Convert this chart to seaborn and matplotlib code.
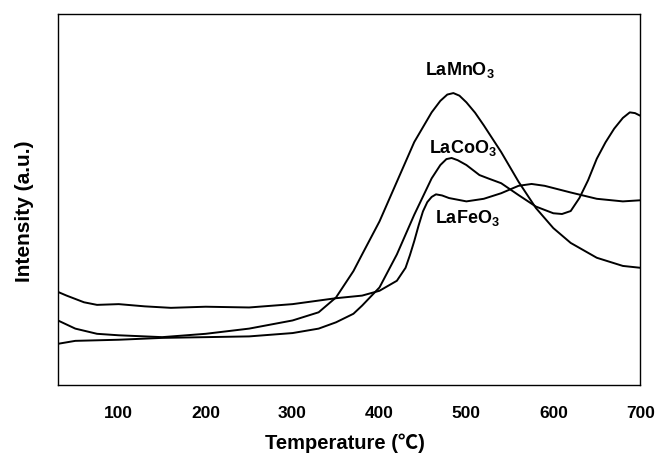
import numpy as np
import pandas as pd
import seaborn as sns
import matplotlib
matplotlib.use("Agg")
import matplotlib.pyplot as plt

# ---- data (intensity in arbitrary units 0-100) ----
mn_T = [30, 50, 75, 100, 150, 200, 250, 300, 330, 350, 370, 380, 400, 420, 440, 460,
        470, 478, 485, 492, 500, 510, 520, 540, 560, 580, 600, 620, 650, 680, 700]
mn_I = [17.4, 15.2, 13.8, 13.4, 12.9, 13.8, 15.2, 17.4, 19.6, 23.6, 30.7, 35.2, 44.1,
        54.8, 65.5, 73.5, 76.6, 78.3, 78.7, 78.0, 76.2, 73.4, 70.0, 62.8, 54.8, 47.7,
        42.3, 38.3, 34.3, 32.1, 31.6]

co_T = [30, 50, 100, 150, 200, 250, 300, 330, 350, 370, 380, 400, 420, 440, 460, 470,
        477, 483, 490, 500, 515, 525, 540, 560, 580, 600, 610, 620, 630, 640, 650, 660,
        670, 680, 688, 694, 700]
co_I = [11.1, 11.9, 12.2, 12.7, 12.9, 13.1, 14.0, 15.2, 16.9, 19.2, 21.4, 26.3, 35.2,
        45.9, 55.7, 59.3, 60.9, 61.2, 60.6, 59.3, 56.6, 55.7, 54.4, 51.2, 48.1, 46.3,
        46.1, 46.9, 50.4, 55.2, 61.0, 65.4, 69.1, 72.0, 73.5, 73.3, 72.6]

fe_T = [30, 40, 60, 75, 100, 130, 160, 200, 250, 300, 350, 380, 400, 420, 430, 435,
        440, 445, 450, 455, 460, 465, 472, 480, 500, 520, 540, 560, 575, 590, 620,
        650, 680, 700]
fe_I = [25.1, 24.1, 22.3, 21.6, 21.8, 21.2, 20.8, 21.1, 20.9, 21.8, 23.4, 24.1, 25.4,
        28.1, 31.6, 35.0, 38.8, 43.0, 46.8, 49.3, 50.7, 51.4, 51.1, 50.4, 49.5, 50.2,
        51.7, 53.7, 54.2, 53.7, 51.9, 50.2, 49.5, 49.8]

series_names = ["LaMnO$_\\mathbf{3}$", "LaCoO$_\\mathbf{3}$", "LaFeO$_\\mathbf{3}$"]
label_T = [492, 496, 501]
label_I = [85, 64, 45]

x_ticks = [100, 200, 300, 400, 500, 600, 700]
x_label = "Temperature (℃)"
y_label = "Intensity (a.u.)"

df = pd.concat([
    pd.DataFrame({"T": mn_T, "I": mn_I, "s": series_names[0]}),
    pd.DataFrame({"T": co_T, "I": co_I, "s": series_names[1]}),
    pd.DataFrame({"T": fe_T, "I": fe_I, "s": series_names[2]}),
])

sns.set_style("white")
plt.rcParams["font.family"] = ["Liberation Sans", "DejaVu Sans"]
plt.rcParams["mathtext.fontset"] = "custom"
plt.rcParams["mathtext.bf"] = "Liberation Sans:bold"
plt.rcParams["mathtext.rm"] = "Liberation Sans"
plt.rcParams["text.color"] = "black"
plt.rcParams["axes.labelcolor"] = "black"
plt.rcParams["xtick.color"] = "black"
plt.rcParams["ytick.color"] = "black"

fig = plt.figure(figsize=(6.58, 4.54), dpi=100)
ax = fig.add_axes([0.088, 0.152, 0.885, 0.817])

sns.lineplot(data=df, x="T", y="I", hue="s", units="s", estimator=None, sort=False,
             palette=["black"] * 3, legend=False, linewidth=1.4, ax=ax)

for name, tx, ty in zip(series_names, label_T, label_I):
    ax.text(tx, ty, name, ha="center", va="center", fontsize=13, fontweight="bold",
            color="black")

ax.set_xlim(30, 700)
ax.set_ylim(0, 100)
ax.set_xticks(x_ticks)
ax.set_xticklabels([str(t) for t in x_ticks], fontsize=12.5, fontweight="bold",
                   color="black")
ax.set_yticks([])
ax.tick_params(axis="x", direction="out", length=5, width=1, color="black", pad=10)
ax.set_xlabel(x_label, fontsize=14.5, fontweight="bold", color="black",
              family=["Liberation Sans", "Noto Sans CJK SC", "DejaVu Sans"])
ax.xaxis.label.set_va("center")
ax.xaxis.set_label_coords(0.493, -0.156)
ax.set_ylabel(y_label, fontsize=15, fontweight="bold", color="black")
ax.yaxis.label.set_va("center")
ax.yaxis.set_label_coords(-0.057, 0.468)
for sp in ax.spines.values():
    sp.set_color("black")
    sp.set_linewidth(1.0)

fig.savefig("out.png", dpi=100)
